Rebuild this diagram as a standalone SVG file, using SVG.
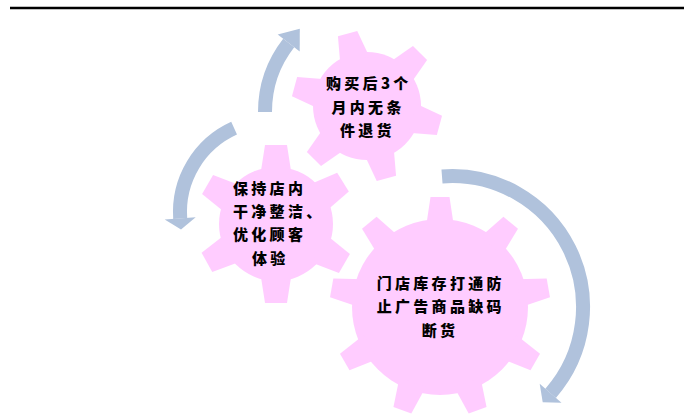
<svg xmlns="http://www.w3.org/2000/svg" width="686" height="419" viewBox="0 0 686 419">
<style>
.gear{fill:#FFCCFF;stroke:none}
.band{fill:none;stroke:#B0C2DC;stroke-width:14;stroke-linecap:butt}
.head{fill:#B0C2DC;stroke:none}
.lbl{font-family:"Noto Sans CJK SC","Noto Sans",sans-serif;font-weight:900;font-size:15px;letter-spacing:3.3px;fill:#000}
</style>
<defs>
<polygon id="t1" points="47,-15 75,-10 75,10 47,15"/>
<polygon id="t2" points="50,-15.5 79,-11 79,11 50,15.5"/>
<polygon id="t3" points="80,-14 110,-9.5 110,9.5 80,14"/>
</defs>
<rect x="0" y="0" width="686" height="419" fill="#FFFFFF"/>
<line x1="10" y1="8" x2="684" y2="8" stroke="#000" stroke-width="2.5"/>

<g id="gear-top">
<g class="gear" transform="translate(367,106)">
<circle cx="0" cy="0" r="54"/>
<use href="#t1" transform="rotate(-105)"/>
<use href="#t1" transform="rotate(-45)"/>
<use href="#t1" transform="rotate(15)"/>
<use href="#t1" transform="rotate(75)"/>
<use href="#t1" transform="rotate(135)"/>
<use href="#t1" transform="rotate(195)"/>
</g>
<text class="lbl" x="326" y="89">购买后3个</text>
<text class="lbl" x="331.5" y="113">月内无条</text>
<text class="lbl" x="340" y="135.7">件退货</text>
</g>

<g id="gear-left">
<g class="gear" transform="translate(276,224)">
<circle cx="0" cy="0" r="57"/>
<use href="#t2" transform="rotate(-90)"/>
<use href="#t2" transform="rotate(-32)"/>
<use href="#t2" transform="rotate(30)"/>
<use href="#t2" transform="rotate(90)"/>
<use href="#t2" transform="rotate(151)"/>
<use href="#t2" transform="rotate(210)"/>
</g>
<text class="lbl" x="233" y="194">保持店内</text>
<text class="lbl" x="233" y="216.7">干净整洁、</text>
<text class="lbl" x="233" y="240">优化顾客</text>
<text class="lbl" x="252" y="264">体验</text>
</g>

<g id="gear-big">
<g class="gear" transform="translate(440,307)">
<circle cx="0" cy="0" r="88"/>
<use href="#t3" transform="rotate(-90)"/>
<use href="#t3" transform="rotate(-50)"/>
<use href="#t3" transform="rotate(-10)"/>
<use href="#t3" transform="rotate(30)"/>
<use href="#t3" transform="rotate(70)"/>
<use href="#t3" transform="rotate(110)"/>
<use href="#t3" transform="rotate(150)"/>
<use href="#t3" transform="rotate(190)"/>
<use href="#t3" transform="rotate(230)"/>
</g>
<text class="lbl" x="376.7" y="289">门店库存打通防</text>
<text class="lbl" x="376.7" y="312.4">止广告商品缺码</text>
<text class="lbl" x="421.7" y="335.7">断货</text>
</g>

<g id="connectors">
<path class="band" d="M265,112 A112,112 0 0 1 288.7,43"/>
<polygon class="head" points="277.7,34.4 299.8,28.8 299.7,51.6"/>
<path class="band" d="M234.1,128.2 A92,92 0 0 0 180.2,218.4"/>
<polygon class="head" points="164.7,219.5 181,229.4 195.7,217.3"/>
<path class="band" d="M442,176.4 A131,131 0 0 1 550.6,393.3"/>
<polygon class="head" points="539.7,383.8 542.7,402.3 561.5,402.8"/>
</g>
</svg>
